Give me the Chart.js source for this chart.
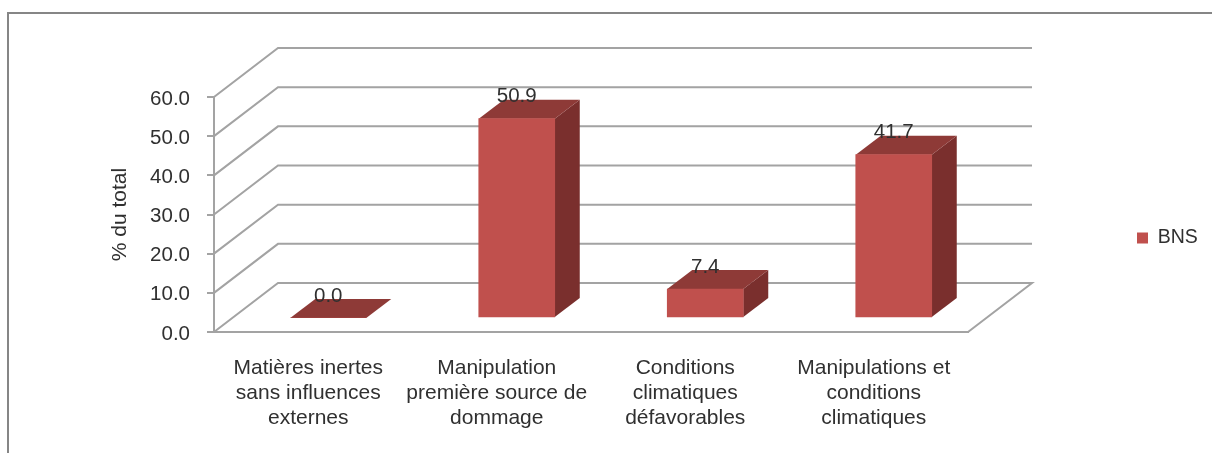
<!DOCTYPE html>
<html lang="fr">
<head>
    <meta charset="UTF-8">
    <title>BNS</title>
    <script src="https://cdn.jsdelivr.net/npm/chart.js"></script>
    <style>
        * { margin: 0; padding: 0; box-sizing: border-box; }
        html, body { width: 1212px; height: 453px; overflow: hidden; background: #fff; }
        .frame { position: absolute; left: 7px; top: 12px; width: 1205px; height: 441px; border-top: 2px solid #868686; border-left: 2px solid #868686; }
        canvas { position: absolute; left: 0; top: 0; }
    </style>
</head>
<body>
    <div class="frame"></div>
    <canvas id="chart" width="1212" height="453"></canvas>

    <script>
        // Chart data
        const categories = [
            ['Matières inertes', 'sans influences', 'externes'],
            ['Manipulation', 'première source de', 'dommage'],
            ['Conditions', 'climatiques', 'défavorables'],
            ['Manipulations et', 'conditions', 'climatiques']
        ];
        const seriesName = 'BNS';
        const seriesValues = [0.0, 50.9, 7.4, 41.7];
        const axisTitle = '% du total';
        const axisMax = 60;
        const axisStep = 10;

        const FONT = '"Liberation Sans", Arial, sans-serif';
        const TEXT = '#303030';
        const LINE = '#a3a3a3';
        const WALL = { dx: 64, dy: -49 };      // depth of the box
        const PLANE = { dx: 20, dy: -14 };     // bars stand this far inside the box
        const BAR = { dx: 25, dy: -19 };       // depth of a bar

        function poly(ctx, pts, color) {
            ctx.beginPath();
            pts.forEach((p, i) => i ? ctx.lineTo(p[0], p[1]) : ctx.moveTo(p[0], p[1]));
            ctx.closePath();
            ctx.fillStyle = color;
            ctx.fill();
        }

        // 3D walls, floor, bar faces and value labels
        const box3d = {
            id: 'box3d',
            afterLayout(chart) {
                // move the legend to the right of the box
                const l = chart.legend;
                l.left = 1127; l.right = 1212;
                l.top = 222; l.bottom = 254;
            },
            beforeDatasetsDraw(chart) {
                const ctx = chart.ctx, y = chart.scales.y, a = chart.chartArea;
                ctx.save();
                ctx.strokeStyle = LINE;
                ctx.lineWidth = 2;
                y.ticks.forEach(t => {
                    const py = y.getPixelForValue(t.value);
                    ctx.beginPath();
                    ctx.moveTo(a.left, py);
                    ctx.lineTo(a.left + WALL.dx, py + WALL.dy);
                    ctx.lineTo(a.right + WALL.dx, py + WALL.dy);
                    if (t.value === 0) ctx.lineTo(a.right, py);
                    ctx.stroke();
                });
                ctx.restore();

                // bars sit on a plane inside the box
                ctx.save();
                ctx.translate(PLANE.dx, PLANE.dy);
                chart.getDatasetMeta(0).data.forEach(b => {
                    const l = b.x - b.width / 2, r = b.x + b.width / 2;
                    poly(ctx, [[r, b.y], [r + BAR.dx, b.y + BAR.dy], [r + BAR.dx, b.base + BAR.dy], [r, b.base]], '#7a2f2d');
                    poly(ctx, [[l, b.y], [r, b.y], [r + BAR.dx, b.y + BAR.dy], [l + BAR.dx, b.y + BAR.dy]], '#8e3a37');
                });
            },
            afterDatasetsDraw(chart) {
                const ctx = chart.ctx;
                ctx.restore();
                ctx.save();
                ctx.font = '20.5px ' + FONT;
                ctx.fillStyle = TEXT;
                ctx.textAlign = 'center';
                ctx.textBaseline = 'middle';
                chart.getDatasetMeta(0).data.forEach((b, i) => {
                    ctx.fillText(seriesValues[i].toFixed(1), b.x + PLANE.dx, b.y + PLANE.dy - 22);
                });
                ctx.restore();
            }
        };

        new Chart(document.getElementById('chart').getContext('2d'), {
            type: 'bar',
            plugins: [box3d],
            data: {
                labels: categories,
                datasets: [{
                    label: seriesName,
                    data: seriesValues,
                    backgroundColor: '#c0504d',
                    borderWidth: 0,
                    barThickness: 76
                }]
            },
            options: {
                responsive: false,
                animation: false,
                layout: { padding: { left: 108, top: 97, right: 184, bottom: 0 } },
                plugins: {
                    tooltip: { enabled: false },
                    legend: {
                        position: 'right',
                        maxWidth: 60,
                        labels: {
                            boxWidth: 11,
                            boxHeight: 11,
                            padding: 10,
                            color: TEXT,
                            font: { family: FONT, size: 19.5 }
                        }
                    }
                },
                scales: {
                    x: {
                        afterFit: s => { s.height = 121; },
                        grid: { display: false },
                        border: { color: LINE, width: 2 },
                        ticks: {
                            autoSkip: false,
                            maxRotation: 0,
                            padding: 16,
                            color: TEXT,
                            font: { family: FONT, size: 21, lineHeight: '25px' }
                        }
                    },
                    y: {
                        min: 0,
                        max: axisMax,
                        afterFit: s => { s.width = 106; },
                        title: {
                            display: true,
                            text: axisTitle,
                            color: TEXT,
                            padding: 0,
                            font: { family: FONT, size: 21 }
                        },
                        grid: { drawOnChartArea: false, color: LINE, lineWidth: 2, tickLength: 7 },
                        border: { color: LINE, width: 2 },
                        ticks: {
                            stepSize: axisStep,
                            padding: 17,
                            labelOffset: 2,
                            color: TEXT,
                            font: { family: FONT, size: 20.5 },
                            callback: v => v.toFixed(1)
                        }
                    }
                }
            }
        });
    </script>
</body>
</html>
